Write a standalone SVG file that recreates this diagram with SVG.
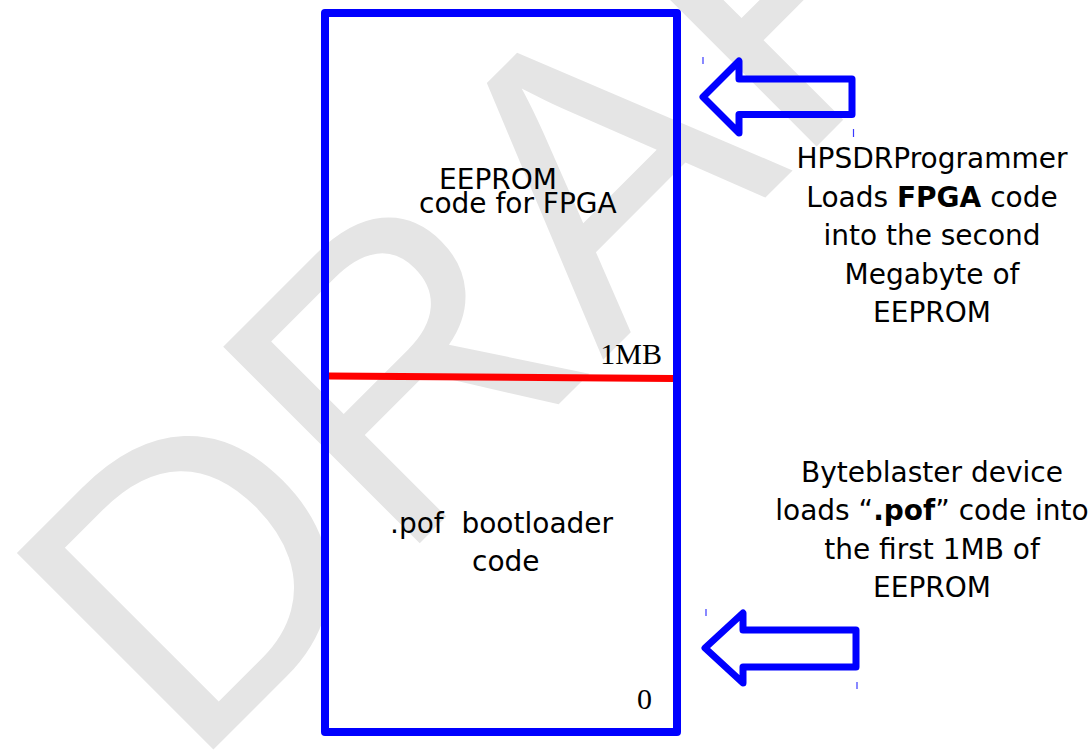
<svg xmlns="http://www.w3.org/2000/svg" width="1089" height="754" viewBox="0 0 1089 754">
  <style>
    .lbl { font-family: "DejaVu Sans", "Verdana", sans-serif; font-size: 28px; fill: #000; }
    .serif { font-family: "Liberation Serif", "Times New Roman", serif; font-size: 30px; fill: #000; }
    .arrow { fill: none; stroke: #0000ff; stroke-width: 7; stroke-linejoin: round; }
    .tick { stroke: #3a3aff; stroke-width: 1.2; }
    .b { font-weight: bold; }
  </style>
  <rect x="0" y="0" width="1089" height="754" fill="#ffffff"/>
  <g id="watermark">
    <text x="190" y="773" transform="rotate(-45 190 773)" font-family="Liberation Sans, Arial, sans-serif" font-size="404" fill="#e5e5e5">DRAFT</text>
  </g>
  <g id="eeprom">
    <rect x="325" y="13" width="352" height="719" fill="none" stroke="#0000ff" stroke-width="8" stroke-linejoin="round"/>
    <line x1="329" y1="376" x2="673" y2="378.5" stroke="#ff0000" stroke-width="7"/>
    <text class="lbl" x="439" y="189" font-size="27.5">EEPROM</text>
    <text class="lbl" x="419" y="213" font-size="27.5">code for FPGA</text>
    <text class="serif" x="662" y="364" text-anchor="end">1MB</text>
    <text class="lbl" x="390" y="533" xml:space="preserve">.pof  bootloader</text>
    <text class="lbl" x="472" y="571">code</text>
    <text class="serif" x="637" y="709">0</text>
  </g>
  <g id="note-fpga">
    <text class="lbl" text-anchor="middle" x="932" y="168">HPSDRProgrammer</text>
    <text class="lbl" text-anchor="middle" x="932" y="207">Loads <tspan class="b">FPGA</tspan> code</text>
    <text class="lbl" text-anchor="middle" x="932" y="245">into the second</text>
    <text class="lbl" text-anchor="middle" x="932" y="284">Megabyte of</text>
    <text class="lbl" text-anchor="middle" x="932" y="322">EEPROM</text>
  </g>
  <g id="note-pof">
    <text class="lbl" text-anchor="middle" x="932" y="482">Byteblaster device</text>
    <text class="lbl" text-anchor="middle" x="932" y="520">loads “<tspan class="b">.pof</tspan>” code into</text>
    <text class="lbl" text-anchor="middle" x="932" y="559">the first 1MB of</text>
    <text class="lbl" text-anchor="middle" x="932" y="597">EEPROM</text>
  </g>
  <g id="connectors">
    <polygon class="arrow" points="703,97 739,61 739,79 852,79 852,114.5 739,114.5 739,133"/>
    <line class="tick" x1="703" y1="57" x2="703" y2="64"/>
    <line class="tick" x1="853.5" y1="129" x2="853.5" y2="137"/>
    <polygon class="arrow" points="705,648 743,613 743,630 856,630 856,667 743,667 743,683"/>
    <line class="tick" x1="706" y1="609" x2="706" y2="616"/>
    <line class="tick" x1="857" y1="682" x2="857" y2="689"/>
  </g>
</svg>
